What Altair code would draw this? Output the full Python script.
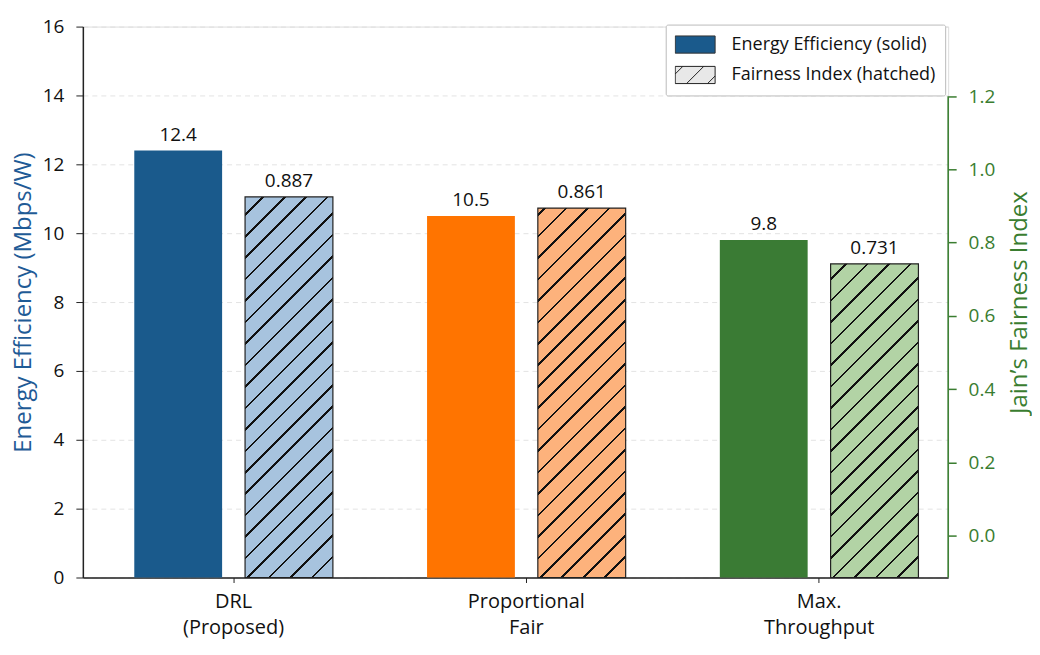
import altair as alt
import pandas as pd

# ---------------- data ----------------
categories = ["DRL\n(Proposed)", "Proportional\nFair", "Max.\nThroughput"]
energy_eff = [12.4, 10.5, 9.8]
fairness = [0.887, 0.861, 0.731]
series_names = ["Energy Efficiency (solid)", "Fairness Index (hatched)"]
left_ticks = [0, 2, 4, 6, 8, 10, 12, 14, 16]
right_ticks = [0.0, 0.2, 0.4, 0.6, 0.8, 1.0, 1.2]

# ---------------- style ----------------
solid_colors = ["#1a5a8c", "#ff7400", "#3a7b34"]
light_colors = ["#a7c3de", "#fdb27c", "#b2d3a5"]
legend_colors = ["#1a5a8c", "#e8e8e8"]
legend_strokes = ["#333333", "#222222"]
BLUE = "#1f5b96"
GREEN = "#3a7d30"
INK = "#111111"
FONT = "Open Sans"
WEIGHT = 500

W, H = 867, 552
LEFT_DOMAIN = [0, 16]
FAIR_DOMAIN = [0, 1.284]
RIGHT_DOMAIN = [-0.1144, 1.39]

X_PI, X_PO, X_ALIGN = 0.1185, 0.03705, 1
O_PI, O_PO = 0.2072, 0.2684

step = W / (len(categories) - X_PI + 2 * X_PO)
band = step * (1 - X_PI)
sub_step = band / (2 - O_PI + 2 * O_PO)
bar_w = sub_step * (1 - O_PI)


def hatch_fill(base, w, h, spacing=21.5, thick=2.6, line="#111111"):
    total = w + h
    r = w / h
    k = (r + 1) / (r * r + 1)
    phase = (h + 2.5) % spacing
    stops = [{"offset": 0, "color": base}]
    c = phase
    while c - thick / 2 < total:
        a = max(0.0, (c - thick / 2) / total)
        b = min(1.0, (c + thick / 2) / total)
        stops += [
            {"offset": a, "color": base},
            {"offset": a, "color": line},
            {"offset": b, "color": line},
            {"offset": b, "color": base},
        ]
        c += spacing
    stops.append({"offset": 1, "color": base})
    return {"gradient": "linear", "x1": 0, "y1": 0, "x2": r * k, "y2": k, "stops": stops}


df = pd.DataFrame({"cat": categories, "ee": energy_eff, "fi": fairness})
df["s_ee"] = series_names[0]
df["s_fi"] = series_names[1]

x_enc = alt.X(
    "cat:N",
    sort=categories,
    scale=alt.Scale(paddingInner=X_PI, paddingOuter=X_PO, align=X_ALIGN),
    axis=alt.Axis(
        title=None,
        labelExpr="split(datum.label, '\\n')",
        labelAngle=0,
        labelFontSize=20,
        labelFontWeight=WEIGHT,
        labelColor=INK,
        labelLineHeight=26,
        labelPadding=9,
        tickSize=5,
        tickColor="#222222",
        domainColor="#222222",
        domainWidth=1.5,
        grid=False,
    ),
)
off_scale = alt.Scale(domain=series_names, paddingInner=O_PI, paddingOuter=O_PO)

left_axis = alt.Axis(
    orient="left",
    values=left_ticks,
    title="Energy Efficiency (Mbps/W)",
    titleColor=BLUE,
    titleFontSize=24,
    titleFontWeight=WEIGHT,
    titlePadding=7,
    labelFontSize=19,
    labelFontWeight=WEIGHT,
    labelColor=INK,
    labelPadding=12,
    tickSize=7,
    tickColor="#222222",
    domainColor="#222222",
    domainWidth=1.5,
    grid=True,
    gridColor="#dcdcdc",
    gridDash=[5, 4],
    gridWidth=0.8,
)

solid = alt.Chart(df).mark_bar().encode(
    x=x_enc,
    xOffset=alt.XOffset("s_ee:N", scale=off_scale),
    y=alt.Y("ee:Q", scale=alt.Scale(domain=LEFT_DOMAIN), axis=left_axis),
    fill=alt.Fill("cat:N", scale=alt.Scale(domain=categories, range=solid_colors), legend=None),
)

solid_text = alt.Chart(df).mark_text(
    fontSize=19, fontWeight=WEIGHT, color=INK, dy=-10, baseline="alphabetic", font=FONT
).encode(
    x=x_enc,
    xOffset=alt.XOffset("s_ee:N", scale=off_scale),
    y=alt.Y("ee:Q", scale=alt.Scale(domain=LEFT_DOMAIN), axis=None),
    text=alt.Text("ee:Q", format=".1f"),
)

hatched_layers = []
for i, cat in enumerate(categories):
    h = fairness[i] / FAIR_DOMAIN[1] * H
    layer = alt.Chart(df).transform_filter(
        alt.datum.cat == cat
    ).mark_bar(
        fill=hatch_fill(light_colors[i], bar_w, h), stroke="#222222", strokeWidth=1.2
    ).encode(
        x=x_enc,
        xOffset=alt.XOffset("s_fi:N", scale=off_scale),
        y=alt.Y("fi:Q", scale=alt.Scale(domain=FAIR_DOMAIN), axis=None),
    )
    hatched_layers.append(layer)

fair_text = alt.Chart(df).mark_text(
    fontSize=19, fontWeight=WEIGHT, color=INK, dy=-10, baseline="alphabetic", font=FONT
).encode(
    x=x_enc,
    xOffset=alt.XOffset("s_fi:N", scale=off_scale),
    y=alt.Y("fi:Q", scale=alt.Scale(domain=FAIR_DOMAIN), axis=None),
    text=alt.Text("fi:Q", format=".3f"),
)

right_axis = alt.Axis(
    orient="right",
    values=right_ticks,
    format=".1f",
    title="Jain\u2019s Fairness Index",
    titleColor=GREEN,
    titleFontSize=24,
    titleFontWeight=WEIGHT,
    titleAngle=270,
    titleBaseline="top",
    titlePadding=13,
    labelColor=GREEN,
    labelFontSize=19,
    labelFontWeight=WEIGHT,
    labelPadding=12,
    tickColor=GREEN,
    tickSize=8,
    tickWidth=1.5,
    domain=False,
    grid=False,
)

right = alt.Chart(alt.Data(values=[{"k": 0}])).mark_rule(
    color=GREEN, strokeWidth=1.6
).encode(
    x=alt.value(W),
    y=alt.YDatum(right_ticks[-1], type="quantitative", scale=alt.Scale(domain=RIGHT_DOMAIN), axis=right_axis),
    y2=alt.Y2Datum(RIGHT_DOMAIN[0]),
)

rect_path = "M-1,-0.43L1,-0.43L1,0.43L-1,0.43Z"
hatch_path = (
    "M-1,-0.43L1,-0.43L1,0.43L-1,0.43Z"
    "M-1,-0.05L-0.62,-0.43"
    "M-0.43,0.43L0.43,-0.43"
    "M0.62,0.43L1,0.05"
)

leg = alt.Legend(
    title=None,
    orient="none",
    legendX=584,
    legendY=-2,
    direction="vertical",
    symbolSize=1600,
    symbolStrokeWidth=1,
    symbolOpacity=1,
    labelFontSize=18,
    labelFontWeight=WEIGHT,
    labelColor=INK,
    labelFont=FONT,
    labelLimit=400,
    labelOffset=16,
    padding=9,
    fillColor="white",
    strokeColor="#bbbbbb",
    cornerRadius=2,
    clipHeight=22,
    rowPadding=8.5,
)

legend_layer = alt.Chart(pd.DataFrame({"s": series_names})).transform_filter(
    "false"
).mark_point(filled=True, size=1600, opacity=1, strokeWidth=1).encode(
    color=alt.Color("s:N", scale=alt.Scale(domain=series_names, range=legend_colors), legend=leg),
    stroke=alt.Stroke("s:N", scale=alt.Scale(domain=series_names, range=legend_strokes), legend=leg),
    shape=alt.Shape("s:N", scale=alt.Scale(domain=series_names, range=[rect_path, hatch_path]), legend=leg),
)

chart = alt.layer(
    solid, solid_text, *hatched_layers, fair_text, right, legend_layer
).resolve_scale(
    y="independent"
).properties(
    width=W, height=H, padding={"left": 3, "top": 9, "right": 0, "bottom": 5}
).configure_view(
    stroke=None
).configure(
    font=FONT, background="white"
).configure_axis(
    labelFont=FONT, titleFont=FONT
)

chart.save("out.html", embed_options={"renderer": "svg", "actions": False})
